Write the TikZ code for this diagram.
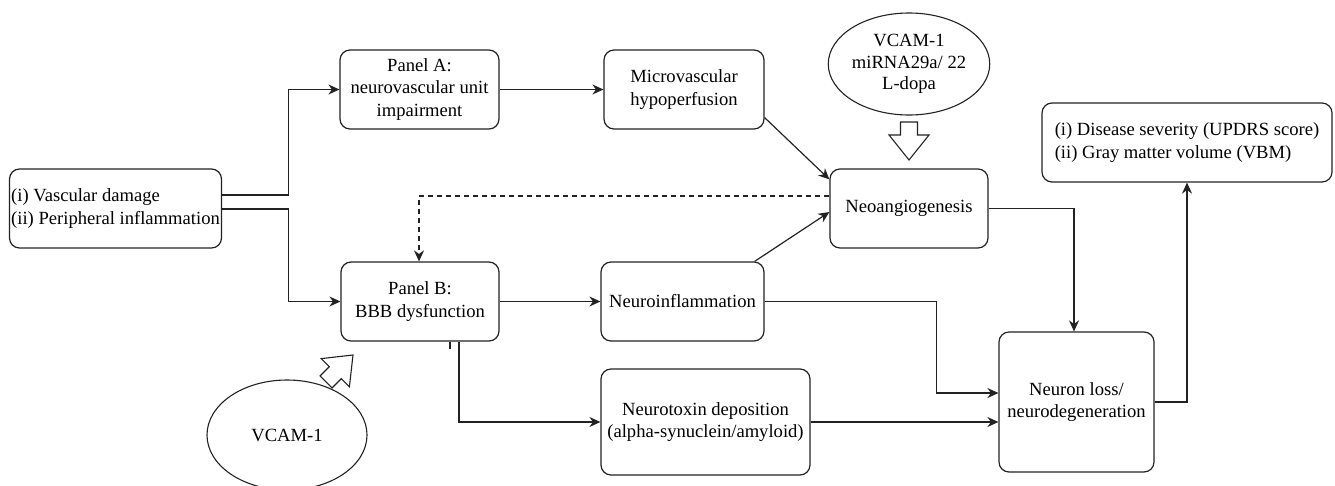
\documentclass[tikz,border=0pt]{standalone}
\usepackage{fontspec}
\setmainfont{Liberation Serif}
\usetikzlibrary{arrows.meta,shapes.geometric}
\definecolor{ink}{HTML}{222222}
\begin{document}
\begin{tikzpicture}[x=1pt,y=-1pt,
  box/.style={draw=ink, line width=1.2pt, rounded corners=10pt, align=center, inner sep=0pt, text=black, font=\fontsize{18.6}{22.5}\selectfont},
  oval/.style={draw=ink, ellipse, line width=1.1pt, inner sep=0pt, align=center, text=black, font=\fontsize{18.6}{21.5}\selectfont},
  arr/.style={draw=ink, line width=1.2pt, -{Stealth[length=11pt,width=10pt]}},
  con/.style={draw=ink, line width=1.2pt},
  blk/.style={draw=ink, line width=1.1pt, fill=white, line join=miter}
]
\useasboundingbox (0,0) rectangle (1335,485);

% nodes
\node[box, align=left, minimum width=212pt, minimum height=79pt] (src) at (115.5,208.5) {(i) Vascular damage\\(ii) Peripheral inflammation};
\node[box, minimum width=159pt, minimum height=79pt] (panelA) at (419.5,89.5) {Panel A:\\neurovascular unit\\impairment};
\node[box, minimum width=160pt, minimum height=79pt] (micro) at (684,89.5) {Microvascular\\hypoperfusion};
\node[box, minimum width=158pt, minimum height=79pt] (neo) at (909,208.5) {Neoangiogenesis};
\node[box, align=left, minimum width=290pt, minimum height=79pt] (outcome) at (1187,142.5) {(i) Disease severity (UPDRS score)\\(ii) Gray matter volume (VBM)};
\node[box, minimum width=158pt, minimum height=79pt] (panelB) at (420,301.5) {Panel B:\\BBB dysfunction};
\node[box, minimum width=163pt, minimum height=79pt] (neuroinf) at (682.5,301.5) {Neuroinflammation};
\node[box, minimum width=209pt, minimum height=106pt] (neurotox) at (705.5,422) {Neurotoxin deposition\\(alpha-synuclein/amyloid)};
\node[box, minimum width=155pt, minimum height=140pt] (neuron) at (1076.5,402) {Neuron loss/\\neurodegeneration};
\node[oval, minimum width=160pt, minimum height=102pt] (ell1) at (909,64) {VCAM-1\\miRNA29a/ 22\\L-dopa};
\node[oval, minimum width=160pt, minimum height=110pt] (ell2) at (287,435) {VCAM-1};

% block arrows
\draw[blk] (909,160) -- (889,135) -- (900.5,135) -- (900.5,122) -- (917.5,122) -- (917.5,135) -- (929,135) -- cycle;
\draw[blk] (353,355) -- (321.2,358.6) -- (329.3,366.7) -- (320.1,375.9) -- (332.1,387.9) -- (341.3,378.7) -- (349.4,386.8) -- cycle;

% connectors
\draw[arr] ([yshift=13.5pt]src.east) -- ++(66,0) |- (panelA.west);
\draw[arr] ([yshift=-0.5pt]src.east) -- ++(66,0) |- (panelB.west);
\draw[arr] (panelA.east) -- (micro.west);
\draw[arr] ([yshift=12pt]micro.south east) -- ([yshift=-11pt]neo.north west);
\draw[arr] ([xshift=-10pt]neuroinf.north east) -- ([yshift=-3.5pt]neo.west);
\draw[arr, dash pattern=on 5pt off 4pt] ([yshift=12.5pt]neo.west) -| ([xshift=-1pt]panelB.north);
\draw[arr] (panelB.east) -- (neuroinf.west);
\draw[arr] ([xshift=39pt]panelB.south) |- (neurotox.west);
\draw[con] ([xshift=30pt]panelB.south) -- ++(0,7);
\draw[arr] (neuroinf.east) -- ++(172,0) |- ([yshift=9pt]neuron.west);
\draw[arr] (neurotox.east) -- (neurotox.east -| neuron.west);
\draw[arr] (neo.east) -| ([xshift=-2.5pt]neuron.north);
\draw[arr] (neuron.east) -| (outcome.south);
\end{tikzpicture}
\end{document}
